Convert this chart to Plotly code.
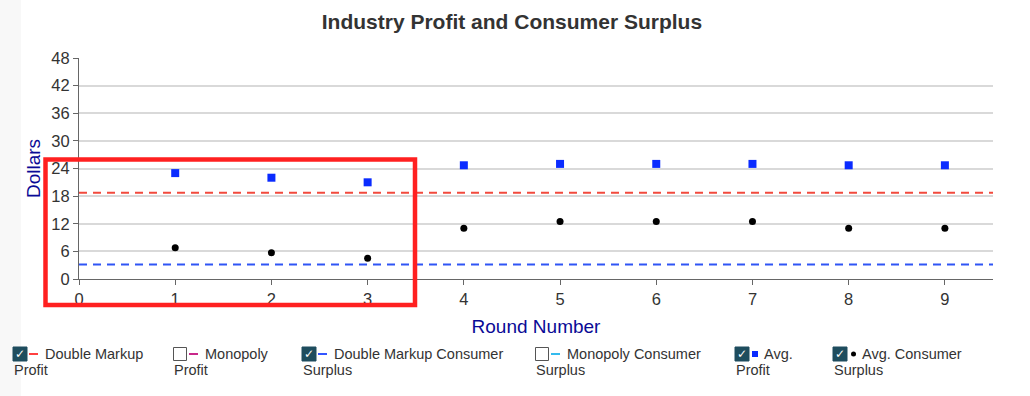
import plotly.graph_objects as go

# ---- data ----
rounds = [1, 2, 3, 4, 5, 6, 7, 8, 9]
avg_profit = [23.0, 22.0, 21.0, 24.7, 25.0, 25.0, 25.0, 24.7, 24.7]
avg_consumer_surplus = [6.8, 5.7, 4.5, 11.0, 12.5, 12.5, 12.5, 11.0, 11.0]
double_markup_profit = 18.75
double_markup_cs = 3.125
y_ticks = [0, 6, 12, 18, 24, 30, 36, 42, 48]
x_ticks = [0, 1, 2, 3, 4, 5, 6, 7, 8, 9]
x_range = [0, 9.5]

legend_items = [
    ("Double Markup", "Profit", True, "line", "#ff4040"),
    ("Monopoly", "Profit", False, "line", "#c8288a"),
    ("Double Markup Consumer", "Surplus", True, "line", "#3355ff"),
    ("Monopoly Consumer", "Surplus", False, "line", "#33bbee"),
    ("Avg.", "Profit", True, "square", "#0a2bff"),
    ("Avg. Consumer", "Surplus", True, "circle", "#000000"),
]
legend_x = [13, 173, 302, 535, 735, 833]

# ---- layout geometry (pixels) ----
W, H = 1030, 396
L, R, T, B = 79, 993, 58, 279
PW, PH = R - L, B - T


def px(x):
    return (x - L) / PW


def py(y):
    return (B - y) / PH


FONT = "Liberation Sans, Arial, Helvetica, sans-serif"

fig = go.Figure()

fig.add_trace(go.Scatter(x=x_range, y=[double_markup_profit] * 2, mode="lines",
                         line=dict(color="#f24a3d", width=2, dash="8px,6px"),
                         hoverinfo="skip", showlegend=False))
fig.add_trace(go.Scatter(x=x_range, y=[double_markup_cs] * 2, mode="lines",
                         line=dict(color="#2f55f5", width=2, dash="8px,6px"),
                         hoverinfo="skip", showlegend=False))
fig.add_trace(go.Scatter(x=rounds, y=avg_profit, mode="markers",
                         marker=dict(symbol="square", size=8, color="#0a2bff"),
                         showlegend=False, name="Avg. Profit"))
fig.add_trace(go.Scatter(x=rounds, y=avg_consumer_surplus, mode="markers",
                         marker=dict(symbol="circle", size=7, color="#000000"),
                         showlegend=False, name="Avg. Consumer Surplus"))

shapes = []
annotations = []

# faint page strip at left
shapes.append(dict(type="rect", xref="paper", yref="paper", x0=px(0), x1=px(21),
                   y0=py(0), y1=py(H), fillcolor="#f8f8f8", line=dict(width=0),
                   layer="below"))

# red highlight box
shapes.append(dict(type="rect", xref="paper", yref="paper", x0=px(45.5), x1=px(415),
                   y0=py(305), y1=py(159.5), line=dict(color="#ff2020", width=4.5),
                   fillcolor="rgba(0,0,0,0)", layer="above"))

# legend
row1, row2 = 354, 370
for (t1, t2, checked, kind, color), x0 in zip(legend_items, legend_x):
    cb_top, cb_bot = row1 - 7, row1 + 7
    if checked:
        shapes.append(dict(type="rect", xref="paper", yref="paper",
                           x0=px(x0), x1=px(x0 + 14), y0=py(cb_bot), y1=py(cb_top),
                           fillcolor="#1e4d5e", line=dict(color="#1e4d5e", width=1)))
        annotations.append(dict(xref="paper", yref="paper", x=px(x0 + 7), y=py(row1),
                                text="<b>✓</b>", showarrow=False, xanchor="center",
                                yanchor="middle",
                                font=dict(family="DejaVu Sans", size=12, color="white")))
    else:
        shapes.append(dict(type="rect", xref="paper", yref="paper",
                           x0=px(x0 + 0.5), x1=px(x0 + 13.5), y0=py(cb_bot - 0.5),
                           y1=py(cb_top + 0.5),
                           fillcolor="white", line=dict(color="#555555", width=1)))
    sx = x0 + 16
    if kind == "line":
        shapes.append(dict(type="line", xref="paper", yref="paper",
                           x0=px(sx), x1=px(sx + 9), y0=py(row1), y1=py(row1),
                           line=dict(color=color, width=2)))
        text_x = x0 + 30
    elif kind == "square":
        shapes.append(dict(type="rect", xref="paper", yref="paper",
                           x0=px(sx + 1), x1=px(sx + 7), y0=py(row1 + 3), y1=py(row1 - 3),
                           fillcolor=color, line=dict(width=0)))
        text_x = x0 + 27
    else:
        shapes.append(dict(type="circle", xref="paper", yref="paper",
                           x0=px(sx + 2), x1=px(sx + 7), y0=py(row1 + 2.5), y1=py(row1 - 2.5),
                           fillcolor=color, line=dict(width=0)))
        text_x = x0 + 27
    annotations.append(dict(xref="paper", yref="paper", x=px(text_x), y=py(row1),
                            text=t1, showarrow=False, xanchor="left", yanchor="middle",
                            font=dict(family=FONT, size=14.5, color="#333333")))
    annotations.append(dict(xref="paper", yref="paper", x=px(x0 - 1), y=py(row2),
                            text=t2, showarrow=False, xanchor="left", yanchor="middle",
                            font=dict(family=FONT, size=14.5, color="#333333")))

fig.update_layout(
    width=W, height=H,
    margin=dict(l=L, r=W - R, t=T, b=H - B),
    paper_bgcolor="white", plot_bgcolor="white",
    title=dict(text="<b>Industry Profit and Consumer Surplus</b>", x=0.497, xref="container",
               y=1 - 22 / H, yref="container", xanchor="center", yanchor="middle",
               font=dict(family=FONT, size=21, color="#333333")),
    xaxis=dict(range=x_range, tickvals=x_ticks, showgrid=False, zeroline=False,
               showline=True, linecolor="#666666", linewidth=1,
               ticks="outside", ticklen=5, tickcolor="#666666",
               tickfont=dict(family=FONT, size=16.5, color="#333333"),
               title=dict(text="Round Number", standoff=12,
                          font=dict(family=FONT, size=19, color="#0a0a96"))),
    yaxis=dict(range=[0, 48], tickvals=y_ticks, showgrid=True, gridcolor="#d9d9d9",
               gridwidth=1.5, zeroline=False, showline=True, linecolor="#666666",
               linewidth=1, ticks="outside", ticklen=5, tickcolor="#666666",
               tickfont=dict(family=FONT, size=16.5, color="#333333"),
               title=dict(text="Dollars", standoff=5,
                          font=dict(family=FONT, size=19, color="#0a0a96"))),
    shapes=shapes, annotations=annotations, showlegend=False,
)

fig.write_html("out.html", config={"displayModeBar": False},
               post_script="document.body.style.margin='0';")
